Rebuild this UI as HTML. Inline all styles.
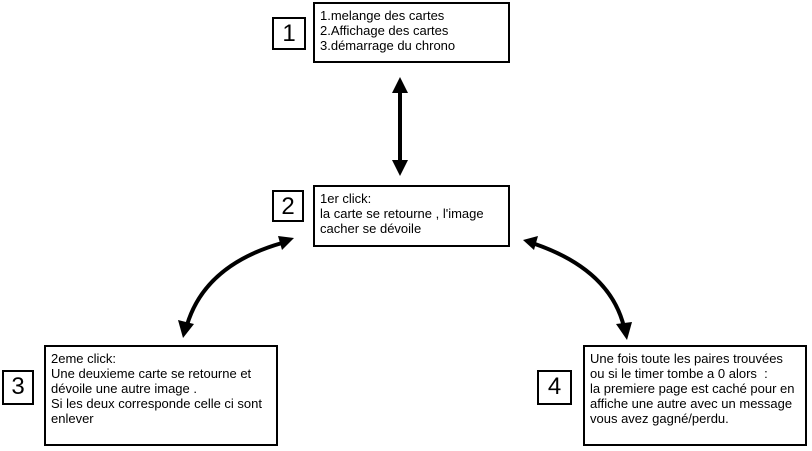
<html><body style="margin:0;width:812px;height:451px;background:#fff;position:relative;font-family:'Liberation Sans',sans-serif;overflow:hidden">
<style>
.b{position:absolute;border:2px solid #000;box-sizing:border-box;font-size:13px;line-height:15px;padding:4px 5px;color:#000;white-space:nowrap}
.n{position:absolute;border:2px solid #000;box-sizing:border-box;font-size:24px;text-align:center;line-height:29px}
</style>
<div class="n" style="left:272px;top:17px;width:34px;height:33px">1</div>
<div class="b" style="left:313px;top:2px;width:197px;height:61px">1.melange des cartes<br>2.Affichage des cartes<br>3.démarrage du chrono</div>
<div class="n" style="left:272px;top:190px;width:32px;height:32px">2</div>
<div class="b" style="left:313px;top:185px;width:197px;height:62px">1er click:<br>la carte se retourne , l'image<br>cacher se dévoile</div>
<div class="n" style="left:2px;top:370px;width:32px;height:35px">3</div>
<div class="b" style="left:44px;top:345px;width:234px;height:101px">2eme click:<br>Une deuxieme carte se retourne et<br>dévoile une autre image .<br>Si les deux corresponde celle ci sont<br>enlever</div>
<div class="n" style="left:537px;top:370px;width:35px;height:35px">4</div>
<div class="b" style="left:583px;top:345px;width:224px;height:101px">Une fois toute les paires trouvées<br>ou si le timer tombe a 0 alors &nbsp;:<br>la premiere page est caché pour en<br>affiche une autre avec un message<br>vous avez gagné/perdu.</div>
<svg width="812" height="451" style="position:absolute;left:0;top:0">
<g stroke="#000" stroke-width="4" fill="none">
<line x1="400" y1="90" x2="400" y2="163"/>
<path d="M282,243 Q205,265 187,325"/>
<path d="M535,244 Q610,270 624,327"/>
</g>
<g fill="#000">
<polygon points="400,77 392,93 408,93"/>
<polygon points="400,176 392,160 408,160"/>
<polygon points="294,238 278,236 282,250"/>
<polygon points="183,338 178,320 194,324"/>
<polygon points="523,240 538,236 534,250"/>
<polygon points="627,340 616,324 632,322"/>
</g>
</svg>
</body></html>
